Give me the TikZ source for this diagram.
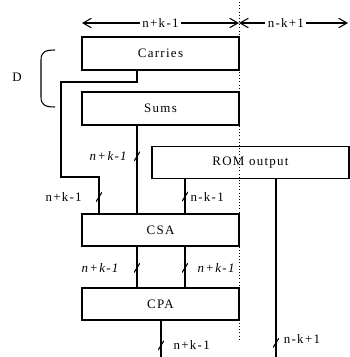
\documentclass[tikz,border=0pt]{standalone}
\usepackage{fontspec}
\setmainfont{Liberation Serif}[LetterSpace=10]
\usetikzlibrary{arrows.meta, positioning}

\begin{document}
\begin{tikzpicture}[
    x=0.85pt, y=-0.85pt,
    line width=1.2pt,
    block/.style={rectangle, draw, line width=1.2pt, minimum width=157*0.85pt,
                  minimum height=33*0.85pt, inner sep=0pt},
    tick/.style={minimum width=5pt, minimum height=8pt, inner sep=0pt,
                 path picture={\draw[line width=0.9pt] (path picture bounding box.south west)
                               -- (path picture bounding box.north east);}},
    dim/.style={{Straight Barb[length=7pt,width=8pt]}-{Straight Barb[length=7pt,width=8pt]},
                line width=0.9pt},
    every node/.style={font=\fontsize{11}{13}\selectfont},
    every label/.style={inner sep=0pt, font=\fontsize{11}{13}\selectfont}
]
\useasboundingbox (0,0) rectangle (350,357);

% Blocks
\node[block] (carries) at (160.5,53.5) {Carries};
\node[block] (sums) at (160.5,108.5) {Sums};
\node[block, minimum width=197*0.85pt, minimum height=32*0.85pt] (rom) at (250.5,162.5) {ROM output};
\node[block, minimum height=32*0.85pt] (csa) at (160.5,230) {CSA};
\node[block, minimum height=32*0.85pt] (cpa) at (160.5,304) {CPA};

% Bus columns
\coordinate (colW) at (61,0);
\coordinate (colL) at (99,0);
\coordinate (colA) at (137,0);
\coordinate (colO) at (161,0);
\coordinate (colB) at (185,0);
\coordinate (colR) at (276,0);
\coordinate (cpaEnd) at (161,357);
\coordinate (romEnd) at (276,357);

% Width arrows
\coordinate (dimL) at (82,23);
\coordinate (dimM) at (239,23);
\coordinate (dimR) at (348,23);
\draw[dim] (dimL) -- node[fill=white, inner sep=2pt] {n+k-1} (dimM);
\draw[dim] (dimM) -- node[fill=white, inner sep=2pt, pos=0.43] {n-k+1} (dimR);

% Brace
\coordinate (braceT) at (55,50);
\coordinate (braceB) at (55,107);
\draw[line width=0.9pt] (braceT) .. controls (45,50) and (41,52) .. (41,60) -- (41,97)
    .. controls (41,105) and (45,107) .. (braceB);
\node (dlabel) at (17,77) {D};

% Connections
\draw (carries.south -| colA) -- (137,82) -- (61,82) -- (61,177) -- (99,177)
    -- node[tick, pos=0.55, label={[label distance=11pt]left:n+k-1}] {} (csa.north -| colL);
\draw (sums.south -| colA)
    -- node[tick, pos=0.35, label={[label distance=4pt]left:\textit{n+k-1}}] {} (csa.north -| colA);
\draw (rom.south -| colB)
    -- node[tick, pos=0.51, label={[label distance=1pt]right:n-k-1}] {} (csa.north -| colB);
\draw (csa.south -| colA)
    -- node[tick, pos=0.52, label={[label distance=11pt]left:\textit{n+k-1}}] {} (cpa.north -| colA);
\draw (csa.south -| colB)
    -- node[tick, pos=0.52, label={[label distance=7pt]right:\textit{n+k-1}}] {} (cpa.north -| colB);
\draw (cpa.south -| colO)
    -- node[tick, pos=0.68, label={[label distance=7pt]right:n+k-1}] {} (cpaEnd);
\draw (rom.south -| colR)
    -- node[tick, pos=0.92, label={[label distance=3pt, yshift=3pt]right:n-k+1}] {} (romEnd);

% Split line
\coordinate (divT) at (239,2);
\coordinate (divB) at (239,340);
\draw[dotted, line width=0.7pt] (divT) -- (divB);

\end{tikzpicture}
\end{document}
